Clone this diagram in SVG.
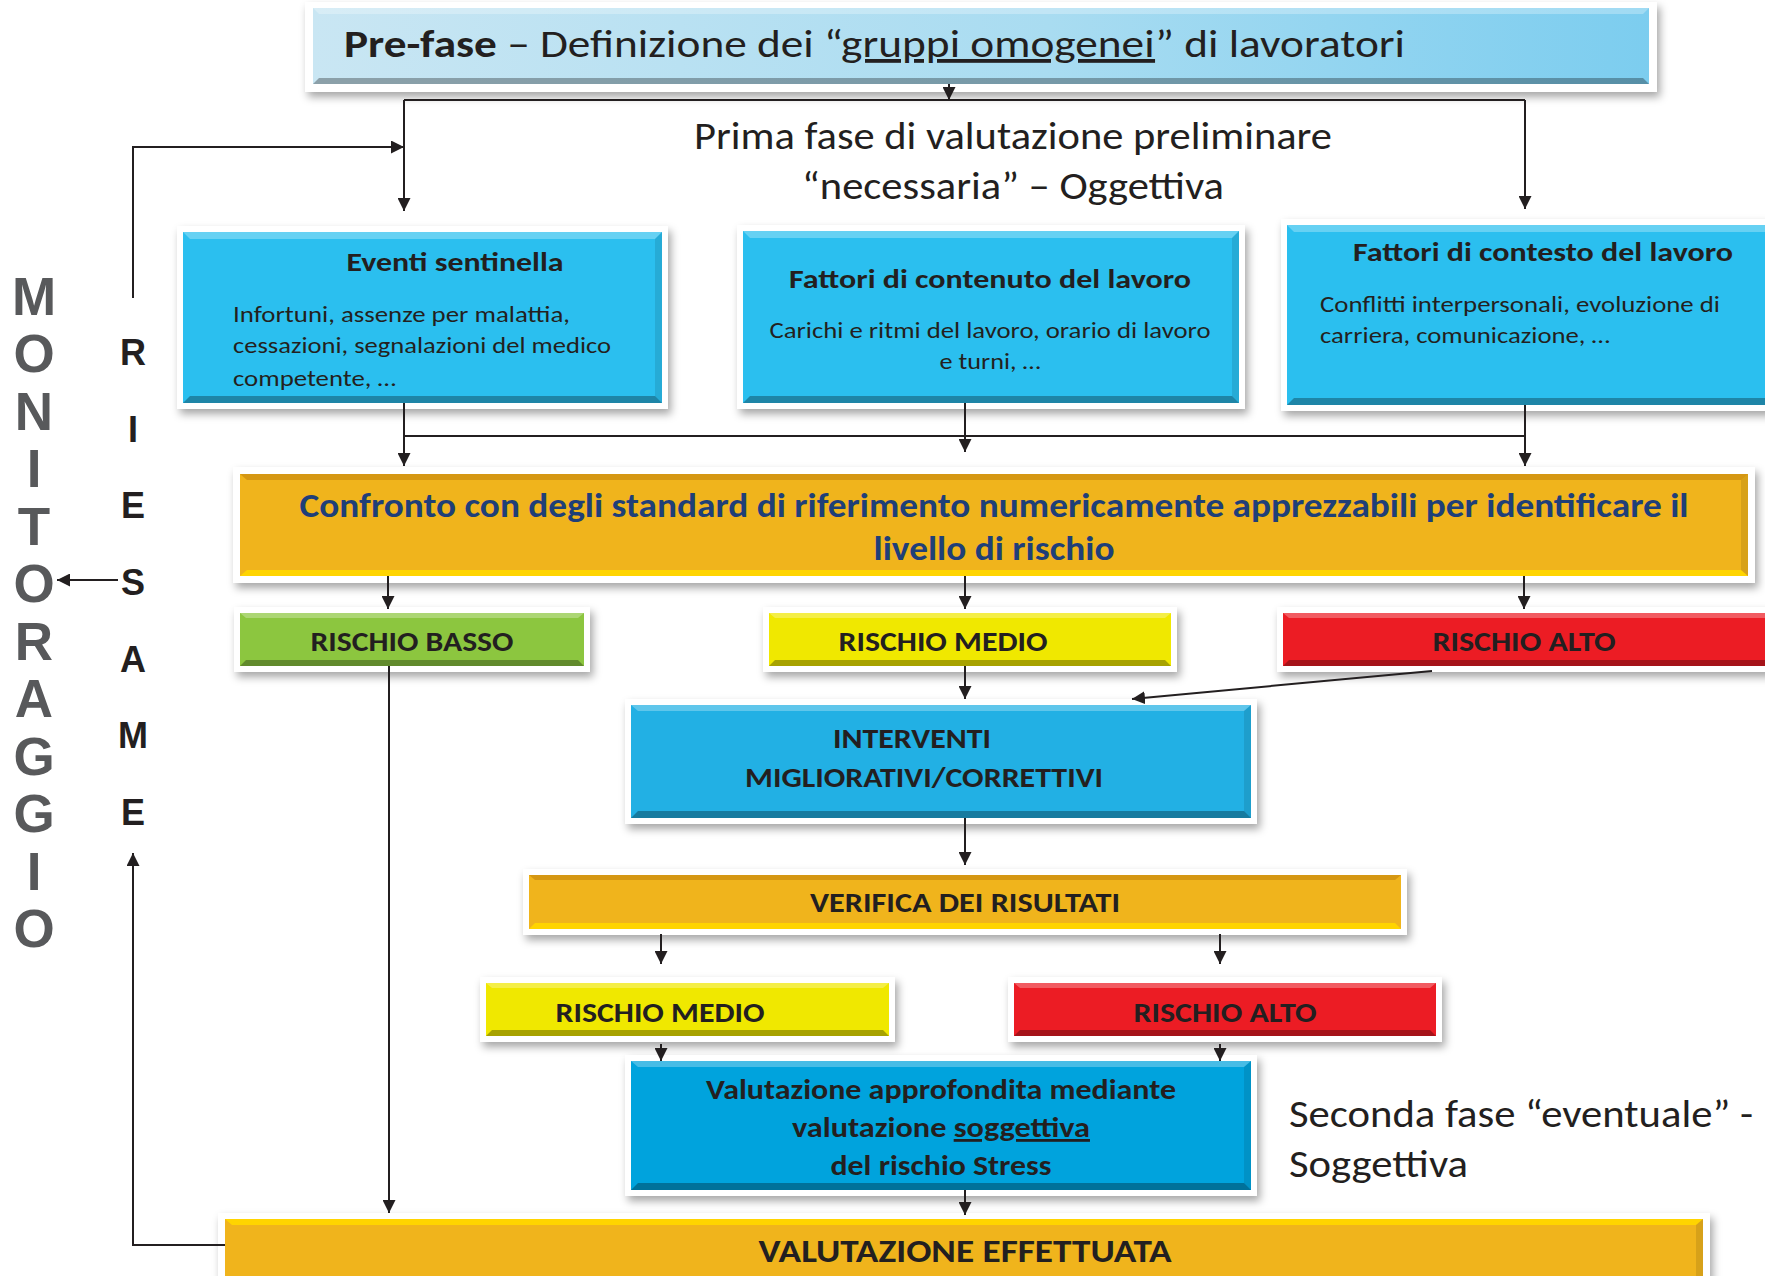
<svg xmlns="http://www.w3.org/2000/svg" width="1765" height="1276" viewBox="0 0 1765 1276">
  <defs>
    <filter id="shadow" x="-5%" y="-20%" width="110%" height="150%">
      <feDropShadow dx="3" dy="5" stdDeviation="4" flood-color="#000" flood-opacity="0.35"/>
    </filter>
    <linearGradient id="gradPre" x1="0" y1="0" x2="1" y2="0">
      <stop offset="0" stop-color="#c9e6f3"/>
      <stop offset="0.55" stop-color="#a9dcf1"/>
      <stop offset="1" stop-color="#7ccdef"/>
    </linearGradient>
    <marker id="arrow" viewBox="0 0 10 10" refX="10" refY="5" markerWidth="13" markerHeight="13" markerUnits="userSpaceOnUse" orient="auto">
      <path d="M0,0 L10,5 L0,10 z" fill="#231f20"/>
    </marker>
  </defs>
  <style>
    .frame { fill: #ffffff; filter: url(#shadow); }
    .hi { fill: #ffffff; fill-opacity: 0.28; }
    .lo { fill: #000000; fill-opacity: 0.30; }
    .sd { fill: #000000; fill-opacity: 0.10; }
    .t { font-family: Carlito, "Open Sans", "Noto Sans", sans-serif; fill: #231f20; }
    .b { font-weight: bold; }
    .c { text-anchor: middle; }
    .big { font-size: 38px; }
    .ttl { font-size: 27px; font-weight: bold; }
    .body { font-size: 23px; }
    .lab { font-size: 28px; font-weight: bold; }
    .mon { font-family: "Liberation Sans", Arial, sans-serif; font-weight: bold; font-size: 53px; fill: #58595b; text-anchor: middle; }
    .rie { font-family: "Liberation Sans", Arial, sans-serif; font-weight: bold; font-size: 36px; fill: #231f20; text-anchor: middle; }
    .ln { stroke: #231f20; stroke-width: 2; fill: none; }
    .ar { stroke: #231f20; stroke-width: 2; fill: none; marker-end: url(#arrow); }
  </style>

  <!-- Pre-fase -->
  <g id="prefase">
    <rect class="frame" x="305" y="2" width="1352" height="90"/>
    <rect x="313" y="8" width="1336" height="76" fill="url(#gradPre)"/>
    <polygon class="hi" points="313,8 1649,8 1643,14 319,14"/>
    <polygon class="lo" points="313,84 1649,84 1643,78 319,78"/>
    <text class="t big" x="344" y="57" textLength="1061" lengthAdjust="spacingAndGlyphs"><tspan class="b">Pre-fase</tspan> – Definizione dei “<tspan text-decoration="underline">gruppi omogenei</tspan>” di lavoratori</text>
  </g>

  <!-- Prima fase caption -->
  <g id="primafase">
    <text class="t big c" x="1013" y="149" textLength="638" lengthAdjust="spacingAndGlyphs">Prima fase di valutazione preliminare</text>
    <text class="t big c" x="1013" y="199" textLength="422" lengthAdjust="spacingAndGlyphs">“necessaria” – Oggettiva</text>
  </g>

  <!-- Eventi sentinella -->
  <g id="eventi">
    <rect class="frame" x="177" y="226" width="491" height="183"/>
    <rect x="183" y="232" width="479" height="171" fill="#2bbfef"/>
    <polygon class="hi" points="183,232 662,232 655,239 190,239"/>
    <polygon class="lo" points="183,403 662,403 655,396 190,396"/>
    <polygon class="sd" points="662,232 662,403 655,396 655,239"/>
    <text class="t ttl c" x="455" y="271" textLength="217" lengthAdjust="spacingAndGlyphs">Eventi sentinella</text>
    <text class="t body" x="233" y="322" textLength="337" lengthAdjust="spacingAndGlyphs">Infortuni, assenze per malattia,</text>
    <text class="t body" x="233" y="353" textLength="378" lengthAdjust="spacingAndGlyphs">cessazioni, segnalazioni del medico</text>
    <text class="t body" x="233" y="386" textLength="163" lengthAdjust="spacingAndGlyphs">competente, …</text>
  </g>

  <!-- Fattori di contenuto -->
  <g id="contenuto">
    <rect class="frame" x="737" y="225" width="508" height="184"/>
    <rect x="743" y="231" width="496" height="172" fill="#2bbfef"/>
    <polygon class="hi" points="743,231 1239,231 1232,238 750,238"/>
    <polygon class="lo" points="743,403 1239,403 1232,396 750,396"/>
    <polygon class="sd" points="1239,231 1239,403 1232,396 1232,238"/>
    <text class="t ttl c" x="990" y="288" textLength="402" lengthAdjust="spacingAndGlyphs">Fattori di contenuto del lavoro</text>
    <text class="t body c" x="990" y="338" textLength="441" lengthAdjust="spacingAndGlyphs">Carichi e ritmi del lavoro, orario di lavoro</text>
    <text class="t body c" x="990" y="369" textLength="101" lengthAdjust="spacingAndGlyphs">e turni, …</text>
  </g>

  <!-- Fattori di contesto -->
  <g id="contesto">
    <rect class="frame" x="1281" y="219" width="500" height="192"/>
    <rect x="1287" y="225" width="490" height="180" fill="#2bbfef"/>
    <polygon class="hi" points="1287,225 1777,225 1770,232 1294,232"/>
    <polygon class="lo" points="1287,405 1777,405 1770,398 1294,398"/>
    <text class="t ttl c" x="1543" y="261" textLength="380" lengthAdjust="spacingAndGlyphs">Fattori di contesto del lavoro</text>
    <text class="t body" x="1320" y="312" textLength="400" lengthAdjust="spacingAndGlyphs">Conflitti interpersonali, evoluzione di</text>
    <text class="t body" x="1320" y="343" textLength="290" lengthAdjust="spacingAndGlyphs">carriera, comunicazione, …</text>
  </g>

  <!-- Confronto -->
  <g id="confronto">
    <rect class="frame" x="233" y="467" width="1522" height="116"/>
    <rect x="240" y="474" width="1508" height="102" fill="#f0b41c"/>
    <polygon points="240,474 1748,474 1741,480 247,480" fill="#c98a10" fill-opacity="0.7"/>
    <polygon points="240,576 1748,576 1741,570 247,570" fill="#ffd400"/>
    <polygon class="sd" points="1748,474 1748,576 1741,570 1741,480"/>
    <text class="t b c" x="994" y="517" font-size="34" textLength="1389" lengthAdjust="spacingAndGlyphs" style="fill:#1f3f78">Confronto con degli standard di riferimento numericamente apprezzabili per identificare il</text>
    <text class="t b c" x="994" y="560" font-size="34" textLength="241" lengthAdjust="spacingAndGlyphs" style="fill:#1f3f78">livello di rischio</text>
  </g>

  <!-- Rischio basso -->
  <g id="rischio-basso">
    <rect class="frame" x="234" y="607" width="356" height="65"/>
    <rect x="240" y="613" width="344" height="53" fill="#8cc63f"/>
    <polygon class="hi" points="240,613 584,613 578,618 246,618"/>
    <polygon class="lo" points="240,666 584,666 578,660 246,660"/>
    <text class="t lab c" x="412" y="651" textLength="203" lengthAdjust="spacingAndGlyphs">RISCHIO BASSO</text>
  </g>

  <!-- Rischio medio -->
  <g id="rischio-medio">
    <rect class="frame" x="763" y="607" width="414" height="65"/>
    <rect x="769" y="613" width="402" height="53" fill="#f0e800"/>
    <polygon class="hi" points="769,613 1171,613 1165,618 775,618"/>
    <polygon class="lo" points="769,666 1171,666 1165,660 775,660"/>
    <text class="t lab c" x="943" y="651" textLength="209" lengthAdjust="spacingAndGlyphs">RISCHIO MEDIO</text>
  </g>

  <!-- Rischio alto -->
  <g id="rischio-alto">
    <rect class="frame" x="1277" y="607" width="500" height="65"/>
    <rect x="1283" y="613" width="490" height="53" fill="#ec1c24"/>
    <polygon class="hi" points="1283,613 1773,613 1767,618 1289,618"/>
    <polygon class="lo" points="1283,666 1773,666 1767,660 1289,660"/>
    <text class="t lab c" x="1524" y="651" textLength="183" lengthAdjust="spacingAndGlyphs">RISCHIO ALTO</text>
  </g>

  <!-- Interventi -->
  <g id="interventi">
    <rect class="frame" x="625" y="699" width="632" height="125"/>
    <rect x="631" y="705" width="620" height="113" fill="#22b0e4"/>
    <polygon class="hi" points="631,705 1251,705 1244,711 638,711"/>
    <polygon class="lo" points="631,818 1251,818 1244,811 638,811"/>
    <polygon class="sd" points="1251,705 1251,818 1244,811 1244,711"/>
    <text class="t lab c" x="912" y="748" textLength="158" lengthAdjust="spacingAndGlyphs">INTERVENTI</text>
    <text class="t lab c" x="924" y="787" textLength="358" lengthAdjust="spacingAndGlyphs">MIGLIORATIVI/CORRETTIVI</text>
  </g>

  <!-- Verifica -->
  <g id="verifica">
    <rect class="frame" x="523" y="869" width="884" height="66"/>
    <rect x="529" y="875" width="872" height="54" fill="#f0b41c"/>
    <polygon points="529,875 1401,875 1395,880 535,880" fill="#c98a10" fill-opacity="0.7"/>
    <polygon points="529,929 1401,929 1395,923 535,923" fill="#ffd400"/>
    <text class="t lab c" x="965" y="912" textLength="310" lengthAdjust="spacingAndGlyphs">VERIFICA DEI RISULTATI</text>
  </g>

  <!-- Rischio medio (seconda fase) -->
  <g id="rischio-medio-2">
    <rect class="frame" x="480" y="977" width="415" height="65"/>
    <rect x="486" y="983" width="403" height="53" fill="#f0e800"/>
    <polygon class="hi" points="486,983 889,983 883,988 492,988"/>
    <polygon class="lo" points="486,1036 889,1036 883,1030 492,1030"/>
    <text class="t lab c" x="660" y="1022" textLength="209" lengthAdjust="spacingAndGlyphs">RISCHIO MEDIO</text>
  </g>

  <!-- Rischio alto (seconda fase) -->
  <g id="rischio-alto-2">
    <rect class="frame" x="1008" y="977" width="434" height="65"/>
    <rect x="1014" y="983" width="422" height="53" fill="#ec1c24"/>
    <polygon class="hi" points="1014,983 1436,983 1430,988 1020,988"/>
    <polygon class="lo" points="1014,1036 1436,1036 1430,1030 1020,1030"/>
    <text class="t lab c" x="1225" y="1022" textLength="183" lengthAdjust="spacingAndGlyphs">RISCHIO ALTO</text>
  </g>

  <!-- Valutazione approfondita -->
  <g id="valutazione-soggettiva">
    <rect class="frame" x="625" y="1055" width="632" height="141"/>
    <rect x="631" y="1061" width="620" height="129" fill="#00a3dd"/>
    <polygon class="hi" points="631,1061 1251,1061 1244,1067 638,1067"/>
    <polygon class="lo" points="631,1190 1251,1190 1244,1183 638,1183"/>
    <polygon class="sd" points="1251,1061 1251,1190 1244,1183 1244,1067"/>
    <text class="t lab c" x="941" y="1099" textLength="470" lengthAdjust="spacingAndGlyphs">Valutazione approfondita mediante</text>
    <text class="t lab c" x="941" y="1137" textLength="298" lengthAdjust="spacingAndGlyphs">valutazione <tspan text-decoration="underline">soggettiva</tspan></text>
    <text class="t lab c" x="941" y="1175" textLength="221" lengthAdjust="spacingAndGlyphs">del rischio Stress</text>
  </g>

  <!-- Seconda fase caption -->
  <g id="secondafase">
    <text class="t big" x="1289" y="1127" textLength="464" lengthAdjust="spacingAndGlyphs">Seconda fase “eventuale” -</text>
    <text class="t big" x="1289" y="1177" textLength="179" lengthAdjust="spacingAndGlyphs">Soggettiva</text>
  </g>

  <!-- Valutazione effettuata -->
  <g id="valutazione-effettuata">
    <rect class="frame" x="218" y="1213" width="1492" height="80"/>
    <rect x="225" y="1219" width="1478" height="70" fill="#f0b41c"/>
    <polygon points="225,1219 1703,1219 1696,1225 232,1225" fill="#ffd400"/>
    <polygon class="sd" points="1703,1219 1703,1289 1696,1289 1696,1225"/>
    <text class="t b c" x="965" y="1262" font-size="33" textLength="413" lengthAdjust="spacingAndGlyphs">VALUTAZIONE EFFETTUATA</text>
  </g>

  <!-- MONITORAGGIO -->
  <g id="monitoraggio">
    <text class="mon" x="34" y="315">M</text>
    <text class="mon" x="34" y="372">O</text>
    <text class="mon" x="34" y="430">N</text>
    <text class="mon" x="34" y="487">I</text>
    <text class="mon" x="34" y="545">T</text>
    <text class="mon" x="34" y="602">O</text>
    <text class="mon" x="34" y="660">R</text>
    <text class="mon" x="34" y="717">A</text>
    <text class="mon" x="34" y="775">G</text>
    <text class="mon" x="34" y="832">G</text>
    <text class="mon" x="34" y="890">I</text>
    <text class="mon" x="34" y="947">O</text>
  </g>

  <!-- RIESAME -->
  <g id="riesame">
    <text class="rie" x="133" y="365">R</text>
    <text class="rie" x="133" y="442">I</text>
    <text class="rie" x="133" y="518">E</text>
    <text class="rie" x="133" y="595">S</text>
    <text class="rie" x="133" y="672">A</text>
    <text class="rie" x="133" y="748">M</text>
    <text class="rie" x="133" y="825">E</text>
  </g>

  <!-- connectors, drawn over the white frames -->
  <g id="connectors">
    <line class="ar" x1="949" y1="84" x2="949" y2="100"/>
    <polyline class="ln" points="404,100 1525,100"/>
    <line class="ar" x1="404" y1="100" x2="404" y2="211"/>
    <line class="ar" x1="1525" y1="100" x2="1525" y2="209"/>
    <polyline class="ar" points="133,298 133,147 404,147"/>
    <line class="ln" x1="404" y1="403" x2="404" y2="436"/>
    <line class="ln" x1="965" y1="403" x2="965" y2="436"/>
    <line class="ln" x1="1525" y1="405" x2="1525" y2="436"/>
    <line class="ln" x1="404" y1="436" x2="1525" y2="436"/>
    <line class="ar" x1="404" y1="436" x2="404" y2="466"/>
    <line class="ar" x1="965" y1="436" x2="965" y2="452"/>
    <line class="ar" x1="1525" y1="436" x2="1525" y2="466"/>
    <line class="ar" x1="388" y1="576" x2="388" y2="609"/>
    <line class="ar" x1="965" y1="576" x2="965" y2="609"/>
    <line class="ar" x1="1524" y1="576" x2="1524" y2="609"/>
    <line class="ar" x1="389" y1="666" x2="389" y2="1213"/>
    <line class="ar" x1="965" y1="666" x2="965" y2="699"/>
    <line class="ar" x1="1432" y1="671" x2="1132" y2="699"/>
    <line class="ar" x1="965" y1="818" x2="965" y2="865"/>
    <line class="ar" x1="661" y1="934" x2="661" y2="964"/>
    <line class="ar" x1="1220" y1="934" x2="1220" y2="964"/>
    <line class="ar" x1="661" y1="1044" x2="661" y2="1061"/>
    <line class="ar" x1="1220" y1="1044" x2="1220" y2="1061"/>
    <line class="ar" x1="965" y1="1190" x2="965" y2="1215"/>
    <polyline class="ar" points="225,1245 133,1245 133,853"/>
    <line class="ar" x1="118" y1="580" x2="57" y2="580"/>
  </g>
</svg>
